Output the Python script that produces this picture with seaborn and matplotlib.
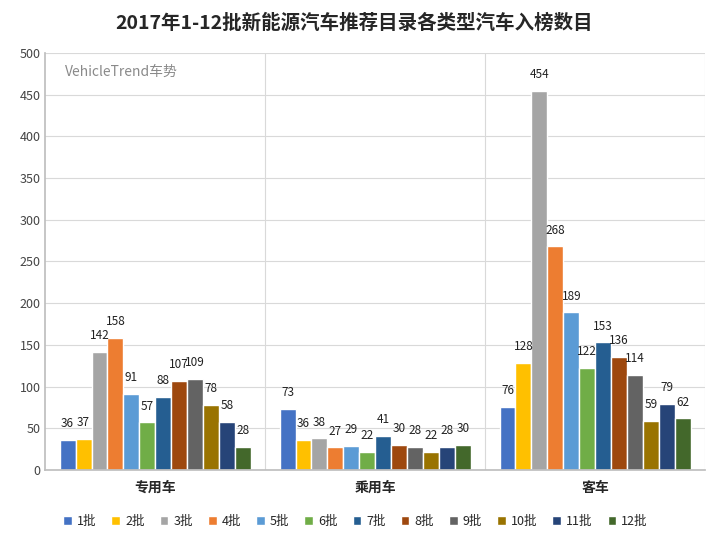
import pandas as pd
import numpy as np
import seaborn as sns
import matplotlib.pyplot as plt

# data
categories = ["专用车", "乘用车", "客车"]
batches = ["1批", "2批", "3批", "4批", "5批", "6批", "7批", "8批", "9批", "10批", "11批", "12批"]
zhuanyong = [36, 37, 142, 158, 91, 57, 88, 107, 109, 78, 58, 28]
chengyong = [73, 36, 38, 27, 29, 22, 41, 30, 28, 22, 28, 30]
keche = [76, 128, 454, 268, 189, 122, 153, 136, 114, 59, 79, 62]
colors = ["#4472C4", "#FFC000", "#A5A5A5", "#ED7D31", "#5B9BD5", "#70AD47",
          "#255E91", "#9E480E", "#636363", "#997300", "#264478", "#43682B"]

rows = []
for cat, vals in zip(categories, [zhuanyong, chengyong, keche]):
    for b, v in zip(batches, vals):
        rows.append({"类型": cat, "批次": b, "数量": v})
df = pd.DataFrame(rows)

sns.set_theme(style="white")
plt.rcParams['font.family'] = ['Noto Sans CJK SC', 'DejaVu Sans']

fig = plt.figure(figsize=(7.08, 5.39), dpi=100)
ax = fig.add_axes([0.064, 0.128, 0.932, 0.774])

# logo in the corner
ax.text(0.03, 0.955, "VehicleTrend车势", transform=ax.transAxes, ha="left", va="center",
        fontsize=10, color="#8a8a8a", zorder=0)

sns.barplot(data=df, x="类型", y="数量", hue="批次", palette=colors, width=0.87,
            saturation=1, ax=ax, zorder=2)

for c in ax.containers:
    ax.bar_label(c, fontsize=8.5, color="#222222", padding=7)

ax.set_ylim(0, 500)
ax.set_yticks(range(0, 501, 50))
ax.set_xlim(-0.5, 2.5)
ax.grid(axis="y", color="#d9d9d9", linewidth=0.8, zorder=0)
ax.set_axisbelow(True)
for xb in [0.5, 1.5, 2.5]:
    ax.axvline(xb, color="#d9d9d9", linewidth=0.8, zorder=0)
for s in ["top", "right"]:
    ax.spines[s].set_visible(False)
ax.spines["left"].set_color("#bfbfbf")
ax.spines["bottom"].set_color("#bfbfbf")
ax.tick_params(axis="y", labelsize=9, colors="#444444", length=0)
ax.tick_params(axis="x", labelsize=10, length=0, pad=8)
for lbl in ax.get_xticklabels():
    lbl.set_fontweight("bold")
ax.set_xlabel("")
ax.set_ylabel("")

ax.legend(loc="upper center", bbox_to_anchor=(0.47, -0.08), ncol=12, frameon=False,
          fontsize=9, handlelength=0.7, handleheight=0.7, handletextpad=0.4,
          columnspacing=1.2)

fig.suptitle("2017年1-12批新能源汽车推荐目录各类型汽车入榜数目", y=0.975,
             fontsize=14, fontweight="bold")

fig.savefig("out.png", dpi=100)
